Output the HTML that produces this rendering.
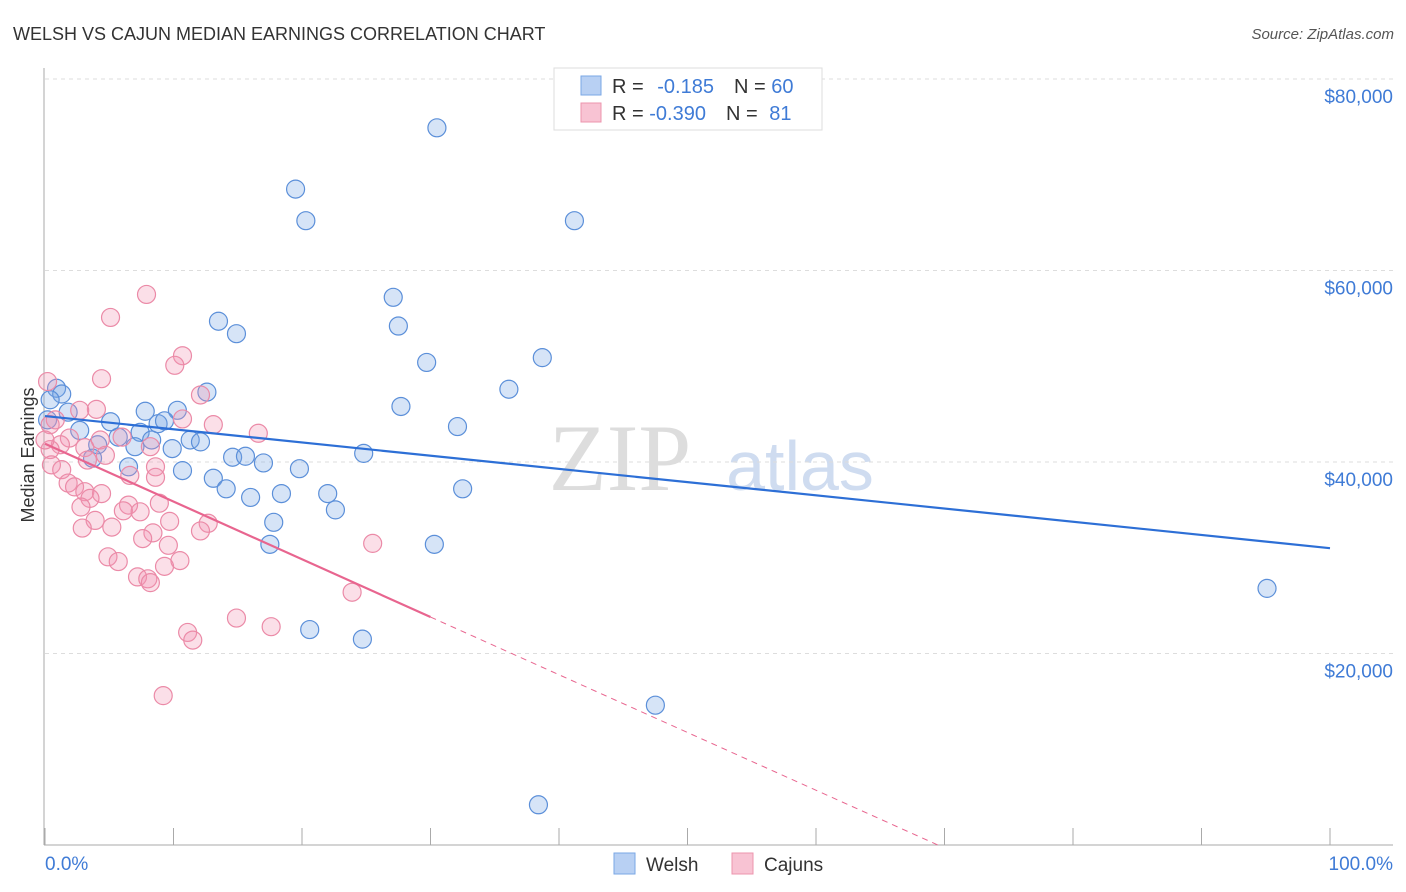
<!DOCTYPE html>
<html><head><meta charset="utf-8"><style>
body{margin:0;background:#fff;font-family:"Liberation Sans",sans-serif}
svg{display:block}
</style></head><body>
<svg id="chart" width="1406" height="892">
<text x="13" y="40" font-size="18" fill="#333">WELSH VS CAJUN MEDIAN EARNINGS CORRELATION CHART</text>
<text x="1394" y="39" font-size="15" fill="#555" font-style="italic" text-anchor="end">Source: ZipAtlas.com</text>
<text x="620" y="490" font-size="95" fill="#ddd" font-family="Liberation Serif,serif" text-anchor="middle">ZIP</text>
<text x="800" y="490" font-size="70" fill="#cfdcf0" text-anchor="middle">atlas</text>
<text transform="translate(34,455) rotate(-90)" font-size="18" fill="#333" text-anchor="middle">Median Earnings</text>
<g id="grid"></g><g id="axes"></g><g id="pts"></g><g id="lines"></g>
<g>
<rect x="554" y="68" width="268" height="62" fill="#fff" stroke="#ddd"/>
<rect x="581" y="76" width="20" height="19" fill="#b8d0f3" stroke="#7aa7e6"/>
<rect x="581" y="103" width="20" height="19" fill="#f8c3d3" stroke="#ec95ae"/>
<text x="612" y="93" font-size="20" fill="#333">R = <tspan fill="#3f7bd6" dx="8">-0.185</tspan><tspan fill="#333" dx="20">N = </tspan><tspan fill="#3f7bd6">60</tspan></text>
<text x="612" y="120" font-size="20" fill="#333">R = <tspan fill="#3f7bd6">-0.390</tspan><tspan fill="#333" dx="20">N = </tspan><tspan fill="#3f7bd6" dx="6">81</tspan></text>
</g>
<g>
<rect x="614" y="853" width="21" height="21" fill="#b8d0f3" stroke="#7aa7e6"/>
<text x="646" y="871" font-size="19" fill="#333">Welsh</text>
<rect x="732" y="853" width="21" height="21" fill="#f8c3d3" stroke="#ec95ae"/>
<text x="764" y="871" font-size="19" fill="#333">Cajuns</text>
</g>
</svg>
<script>
const welshX=[30.5,19.5,20.3,41.2,27.1,27.5,13.5,14.9,38.7,29.7,36.1,12.6,0.9,1.3,27.7,1.8,7.8,10.3,5.1,8.8,9.3,32.1,2.7,7.4,5.7,8.3,11.3,12.1,4.1,7.0,9.9,24.8,14.6,15.6,3.7,17.0,6.5,19.8,10.7,13.1,14.1,32.5,16.0,18.4,22.0,17.8,22.6,17.5,30.3,20.6,24.7,95.1,47.5,38.4,0.4,0.2];
const welshY=[74.9,68.5,65.2,65.2,57.2,54.2,54.7,53.4,50.9,50.4,47.6,47.3,47.7,47.1,45.8,45.2,45.3,45.4,44.2,44.0,44.3,43.7,43.3,43.1,42.6,42.3,42.3,42.1,41.8,41.6,41.4,40.9,40.5,40.6,40.4,39.9,39.5,39.3,39.1,38.3,37.2,37.2,36.3,36.7,36.7,33.7,35.0,31.4,31.4,22.5,21.5,26.8,14.6,4.2,46.5,44.4];
const cajunX=[7.9,5.1,10.7,10.1,4.4,0.2,12.1,4.0,2.7,0.8,10.7,13.1,16.6,1.9,4.3,6.0,1.2,3.1,8.2,0.4,4.7,3.3,0.5,8.6,1.3,6.6,8.6,1.8,2.3,3.1,4.4,3.5,8.9,2.8,6.5,6.1,7.4,3.9,9.7,12.7,2.9,5.2,12.1,8.4,7.6,9.6,25.5,4.9,5.7,10.5,9.3,7.2,8.0,8.2,23.9,14.9,17.6,11.1,11.5,9.2,0.4,0.0];
const cajunY=[57.5,55.1,51.1,50.1,48.7,48.4,47.0,45.5,45.4,44.4,44.5,43.9,43.0,42.5,42.3,42.6,41.8,41.5,41.6,41.3,40.7,40.2,39.7,39.5,39.2,38.6,38.4,37.8,37.4,36.9,36.7,36.2,35.7,35.3,35.5,34.9,34.8,33.9,33.8,33.6,33.1,33.2,32.8,32.6,32.0,31.3,31.5,30.1,29.6,29.7,29.1,28.0,27.8,27.4,26.4,23.7,22.8,22.2,21.4,15.6,43.9,42.3];
const yTicks=[20,40,60,80];
const yTickLabels=["$20,000","$40,000","$60,000","$80,000"];
const welshTrend=[44.8,-0.138];
const cajunTrend=[41.9,-0.603];
const cajunSolidEnd=30;
const NS="http://www.w3.org/2000/svg";
const sx=v=>45+v*12.85, sy=v=>845-v*9.575;
function mk(p,tag,a){const e=document.createElementNS(NS,tag);for(const k in a)e.setAttribute(k,a[k]);p.appendChild(e);return e;}
const grid=document.getElementById('grid'),axes=document.getElementById('axes'),pts=document.getElementById('pts'),lines=document.getElementById('lines');
yTicks.forEach((t,i)=>{
 const l=mk(grid,'line',{x1:45,x2:1393,y1:sy(t),y2:sy(t),stroke:'#ddd','stroke-dasharray':'4,4'});
 
 
 const tx=mk(grid,'text',{x:1393,y:sy(t)+24,'font-size':19,fill:'#3f7bd6','text-anchor':'end'});
 tx.textContent=yTickLabels[i];
 
 
});
mk(grid,'line',{x1:45,x2:1393,y1:79,y2:79,stroke:'#ddd','stroke-dasharray':'4,4'});
mk(axes,'line',{x1:44,x2:44,y1:68,y2:845,stroke:'#aaa'});
mk(axes,'line',{x1:44,x2:1393,y1:845,y2:845,stroke:'#aaa'});
for(let i=0;i<=10;i++){mk(axes,'line',{x1:sx(i*10),x2:sx(i*10),y1:828,y2:845,stroke:'#aaa'});}
const x0=mk(axes,'text',{x:45,y:870,'font-size':19,fill:'#3f7bd6'});x0.textContent='0.0%';


const x1=mk(axes,'text',{x:1393,y:870,'font-size':19,fill:'#3f7bd6','text-anchor':'end'});x1.textContent='100.0%';


welshX.forEach((x,i)=>{const c=mk(pts,'circle',{cx:sx(x),cy:sy(welshY[i]),r:9,fill:'rgba(120,165,230,0.3)',stroke:'#5b8fd9','stroke-width':1.2});
 
 });
cajunX.forEach((x,i)=>{const c=mk(pts,'circle',{cx:sx(x),cy:sy(cajunY[i]),r:9,fill:'rgba(242,150,180,0.3)',stroke:'#eb8aa7','stroke-width':1.2});
 
 });
const bl=mk(lines,'line',{x1:sx(0),y1:sy(welshTrend[0]),x2:sx(100),y2:sy(welshTrend[0]+welshTrend[1]*100),stroke:'#2d6fd6','stroke-width':2.2});


const pe=cajunTrend[0]+cajunTrend[1]*cajunSolidEnd;
const pl=mk(lines,'line',{x1:sx(0),y1:sy(cajunTrend[0]),x2:sx(cajunSolidEnd),y2:sy(pe),stroke:'#e8658f','stroke-width':2.2});


const xz=-cajunTrend[0]/cajunTrend[1];
const pd=mk(lines,'line',{x1:sx(cajunSolidEnd),y1:sy(pe),x2:sx(xz),y2:sy(0),stroke:'#e8658f','stroke-width':1,'stroke-dasharray':'6,5'});


</script>
</body></html>
